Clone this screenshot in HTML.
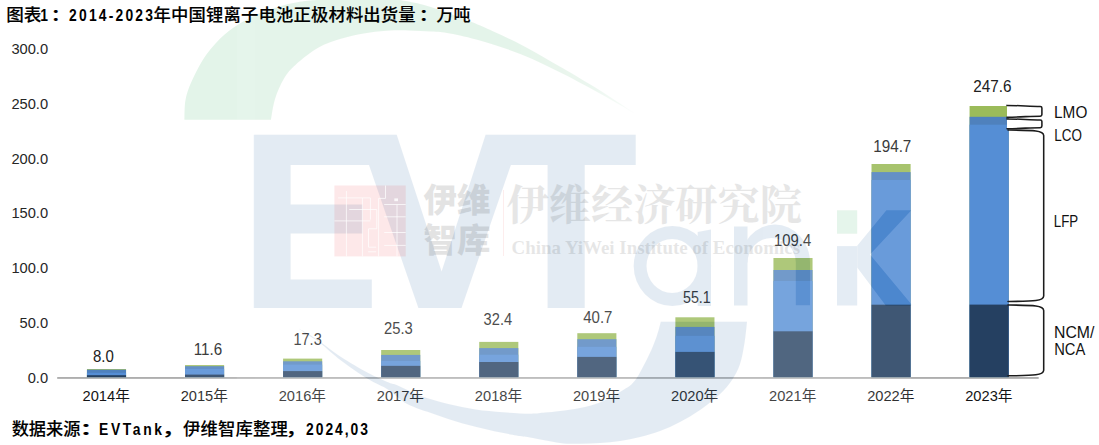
<!DOCTYPE html><html lang="zh"><head><meta charset="utf-8"><title>chart</title><style>html,body{margin:0;padding:0;background:#fff}svg{display:block}</style></head><body><svg width="1099" height="445" viewBox="0 0 1099 445">
<defs><linearGradient id="arcg" gradientUnits="userSpaceOnUse" x1="185" y1="0" x2="636" y2="0"><stop offset="0" stop-color="#1ea348"/><stop offset="0.72" stop-color="#1ea348"/><stop offset="0.9" stop-color="#5cbf7b"/><stop offset="1" stop-color="#e0f3e6"/></linearGradient></defs>
<rect width="1099" height="445" fill="#fff"/>
<rect x="57.2" y="377.10" width="981.5" height="1.7" fill="#a6a6a6"/>
<rect x="86.95" y="369.1" width="39.1" height="8.00" fill="#9BBB59"/>
<rect x="86.95" y="369.7" width="39.1" height="7.40" fill="#4F81BD"/>
<rect x="86.95" y="372.8" width="39.1" height="4.30" fill="#558ED5"/>
<rect x="86.95" y="375.2" width="39.1" height="1.90" fill="#254061"/>
<rect x="185.02" y="365.1" width="39.1" height="12.00" fill="#9BBB59"/>
<rect x="185.02" y="366.2" width="39.1" height="10.90" fill="#4F81BD"/>
<rect x="185.02" y="368.9" width="39.1" height="8.20" fill="#558ED5"/>
<rect x="185.02" y="374.6" width="39.1" height="2.50" fill="#254061"/>
<rect x="283.09" y="358.6" width="39.1" height="18.50" fill="#9BBB59"/>
<rect x="283.09" y="361.3" width="39.1" height="15.80" fill="#4F81BD"/>
<rect x="283.09" y="364.6" width="39.1" height="12.50" fill="#558ED5"/>
<rect x="283.09" y="371.1" width="39.1" height="6.00" fill="#254061"/>
<rect x="381.16" y="350.0" width="39.1" height="27.10" fill="#9BBB59"/>
<rect x="381.16" y="354.9" width="39.1" height="22.20" fill="#4F81BD"/>
<rect x="381.16" y="360.9" width="39.1" height="16.20" fill="#558ED5"/>
<rect x="381.16" y="365.85" width="39.1" height="11.25" fill="#254061"/>
<rect x="479.23" y="341.9" width="39.1" height="35.20" fill="#9BBB59"/>
<rect x="479.23" y="348.1" width="39.1" height="29.00" fill="#4F81BD"/>
<rect x="479.23" y="354.7" width="39.1" height="22.40" fill="#558ED5"/>
<rect x="479.23" y="362.0" width="39.1" height="15.10" fill="#254061"/>
<rect x="577.30" y="333.2" width="39.1" height="43.90" fill="#9BBB59"/>
<rect x="577.30" y="339.2" width="39.1" height="37.90" fill="#4F81BD"/>
<rect x="577.30" y="346.8" width="39.1" height="30.30" fill="#558ED5"/>
<rect x="577.30" y="356.9" width="39.1" height="20.20" fill="#254061"/>
<rect x="675.37" y="317.3" width="39.1" height="59.80" fill="#9BBB59"/>
<rect x="675.37" y="326.9" width="39.1" height="50.20" fill="#4F81BD"/>
<rect x="675.37" y="335.85" width="39.1" height="41.25" fill="#558ED5"/>
<rect x="675.37" y="351.9" width="39.1" height="25.20" fill="#254061"/>
<rect x="773.44" y="258.0" width="39.1" height="119.10" fill="#9BBB59"/>
<rect x="773.44" y="270.0" width="39.1" height="107.10" fill="#4F81BD"/>
<rect x="773.44" y="281.0" width="39.1" height="96.10" fill="#558ED5"/>
<rect x="773.44" y="331.3" width="39.1" height="45.80" fill="#254061"/>
<rect x="871.51" y="164.0" width="39.1" height="213.10" fill="#9BBB59"/>
<rect x="871.51" y="172.1" width="39.1" height="205.00" fill="#4F81BD"/>
<rect x="871.51" y="180.0" width="39.1" height="197.10" fill="#558ED5"/>
<rect x="871.51" y="304.7" width="39.1" height="72.40" fill="#254061"/>
<rect x="969.58" y="106.0" width="39.1" height="271.10" fill="#9BBB59"/>
<rect x="969.58" y="116.8" width="39.1" height="260.30" fill="#4F81BD"/>
<rect x="969.58" y="124.7" width="39.1" height="252.40" fill="#558ED5"/>
<rect x="969.58" y="304.6" width="39.1" height="72.50" fill="#254061"/>
<text x="48.1" y="53.90" font-family="Liberation Sans, sans-serif" font-size="14.67" text-anchor="end" fill="#262626">300.0</text>
<text x="48.1" y="108.72" font-family="Liberation Sans, sans-serif" font-size="14.67" text-anchor="end" fill="#262626">250.0</text>
<text x="48.1" y="163.54" font-family="Liberation Sans, sans-serif" font-size="14.67" text-anchor="end" fill="#262626">200.0</text>
<text x="48.1" y="218.36" font-family="Liberation Sans, sans-serif" font-size="14.67" text-anchor="end" fill="#262626">150.0</text>
<text x="48.1" y="273.18" font-family="Liberation Sans, sans-serif" font-size="14.67" text-anchor="end" fill="#262626">100.0</text>
<text x="48.1" y="328.00" font-family="Liberation Sans, sans-serif" font-size="14.67" text-anchor="end" fill="#262626">50.0</text>
<text x="48.1" y="382.82" font-family="Liberation Sans, sans-serif" font-size="14.67" text-anchor="end" fill="#262626">0.0</text>
<text x="106.20" y="401" font-family="Liberation Sans, Noto Sans CJK SC, sans-serif" font-size="14.67" text-anchor="middle" fill="#141414">2014年</text>
<text x="204.27" y="401" font-family="Liberation Sans, Noto Sans CJK SC, sans-serif" font-size="14.67" text-anchor="middle" fill="#141414">2015年</text>
<text x="302.34" y="401" font-family="Liberation Sans, Noto Sans CJK SC, sans-serif" font-size="14.67" text-anchor="middle" fill="#141414">2016年</text>
<text x="400.41" y="401" font-family="Liberation Sans, Noto Sans CJK SC, sans-serif" font-size="14.67" text-anchor="middle" fill="#141414">2017年</text>
<text x="498.48" y="401" font-family="Liberation Sans, Noto Sans CJK SC, sans-serif" font-size="14.67" text-anchor="middle" fill="#141414">2018年</text>
<text x="596.55" y="401" font-family="Liberation Sans, Noto Sans CJK SC, sans-serif" font-size="14.67" text-anchor="middle" fill="#141414">2019年</text>
<text x="694.62" y="401" font-family="Liberation Sans, Noto Sans CJK SC, sans-serif" font-size="14.67" text-anchor="middle" fill="#141414">2020年</text>
<text x="792.69" y="401" font-family="Liberation Sans, Noto Sans CJK SC, sans-serif" font-size="14.67" text-anchor="middle" fill="#141414">2021年</text>
<text x="890.76" y="401" font-family="Liberation Sans, Noto Sans CJK SC, sans-serif" font-size="14.67" text-anchor="middle" fill="#141414">2022年</text>
<text x="988.83" y="401" font-family="Liberation Sans, Noto Sans CJK SC, sans-serif" font-size="14.67" text-anchor="middle" fill="#141414">2023年</text>
<text transform="translate(92.98,361.6) scale(0.9561,1)" font-family="Liberation Sans, Noto Sans CJK SC, sans-serif" font-weight="400" font-size="15.7" letter-spacing="0.000" fill="#202020" >8.0</text>
<text transform="translate(193.79,354.5) scale(0.9673,1)" font-family="Liberation Sans, Noto Sans CJK SC, sans-serif" font-weight="400" font-size="15.7" letter-spacing="0.000" fill="#202020" >11.6</text>
<text transform="translate(293.44,345.2) scale(0.9263,1)" font-family="Liberation Sans, Noto Sans CJK SC, sans-serif" font-weight="400" font-size="15.7" letter-spacing="0.000" fill="#202020" >17.3</text>
<text transform="translate(383.99,334.3) scale(0.9414,1)" font-family="Liberation Sans, Noto Sans CJK SC, sans-serif" font-weight="400" font-size="15.7" letter-spacing="0.000" fill="#202020" >25.3</text>
<text transform="translate(483.60,325.3) scale(0.9333,1)" font-family="Liberation Sans, Noto Sans CJK SC, sans-serif" font-weight="400" font-size="15.7" letter-spacing="0.000" fill="#202020" >32.4</text>
<text transform="translate(583.26,323.0) scale(0.9559,1)" font-family="Liberation Sans, Noto Sans CJK SC, sans-serif" font-weight="400" font-size="15.7" letter-spacing="0.000" fill="#202020" >40.7</text>
<text transform="translate(683.02,303.3) scale(0.9069,1)" font-family="Liberation Sans, Noto Sans CJK SC, sans-serif" font-weight="400" font-size="15.7" letter-spacing="0.000" fill="#202020" >55.1</text>
<text transform="translate(774.12,245.70000000000002) scale(0.9440,1)" font-family="Liberation Sans, Noto Sans CJK SC, sans-serif" font-weight="400" font-size="15.7" letter-spacing="0.000" fill="#202020" >109.4</text>
<text transform="translate(873.19,151.9) scale(0.9718,1)" font-family="Liberation Sans, Noto Sans CJK SC, sans-serif" font-weight="400" font-size="15.7" letter-spacing="0.000" fill="#202020" >194.7</text>
<text transform="translate(973.27,91.5) scale(0.9748,1)" font-family="Liberation Sans, Noto Sans CJK SC, sans-serif" font-weight="400" font-size="15.7" letter-spacing="0.000" fill="#202020" >247.6</text>
<text transform="translate(1054.08,118.1) scale(0.9781,1)" font-family="Liberation Sans, Noto Sans CJK SC, sans-serif" font-weight="400" font-size="15.7" letter-spacing="0.000" fill="#111" >LMO</text>
<text transform="translate(1054.23,141.2) scale(0.8562,1)" font-family="Liberation Sans, Noto Sans CJK SC, sans-serif" font-weight="400" font-size="15.7" letter-spacing="0.000" fill="#111" >LCO</text>
<text transform="translate(1053.84,227.4) scale(0.8486,1)" font-family="Liberation Sans, Noto Sans CJK SC, sans-serif" font-weight="400" font-size="15.7" letter-spacing="0.000" fill="#111" >LFP</text>
<text transform="translate(1054.04,337.8) scale(1.0065,1)" font-family="Liberation Sans, Noto Sans CJK SC, sans-serif" font-weight="400" font-size="15.7" letter-spacing="0.000" fill="#111" >NCM/</text>
<text transform="translate(1054.13,354.7) scale(0.9386,1)" font-family="Liberation Sans, Noto Sans CJK SC, sans-serif" font-weight="400" font-size="15.7" letter-spacing="0.000" fill="#111" >NCA</text>
<path d="M1007.0,105.4 C1021.0,105.5 1029.9,106.4 1040.3000000000002,106.4 Q1041.9,106.4 1041.9,108.0 L1041.9,114.60000000000001 Q1041.9,116.2 1040.3000000000002,116.2 C1029.9,116.2 1021.0,117.10000000000001 1007.0,117.2" fill="#fff" stroke="#1c1c1c" stroke-width="1.55" stroke-linejoin="round" stroke-linecap="round"/>
<path d="M1007.0,118.9 C1021.0,119.0 1029.9,119.9 1040.3000000000002,119.9 Q1041.9,119.9 1041.9,121.5 L1041.9,126.1 Q1041.9,127.69999999999999 1040.3000000000002,127.69999999999999 C1029.9,127.69999999999999 1021.0,128.6 1007.0,128.7" fill="#fff" stroke="#1c1c1c" stroke-width="1.55" stroke-linejoin="round" stroke-linecap="round"/>
<path d="M1008.0,130.0 C1034.0,130.3 1043.4,130.3 1043.7,135.5 L1043.7,296.0 C1043.4,301.2 1034.0,301.2 1008.0,301.5" fill="none" stroke="#1c1c1c" stroke-width="1.55" stroke-linejoin="round" stroke-linecap="round"/>
<path d="M1008.0,305.0 C1034.0,305.3 1043.4,305.3 1043.7,310.5 L1043.7,370.3 C1043.4,375.5 1034.0,375.5 1008.0,375.8" fill="none" stroke="#1c1c1c" stroke-width="1.55" stroke-linejoin="round" stroke-linecap="round"/>
<clipPath id="wm1"><rect x="184.2" y="0" width="727.2" height="445"/></clipPath>
<g clip-path="url(#wm1)"><g opacity="0.12">
<rect x="184.2" y="0" width="727.2" height="445" fill="#fff"/>
<path d="M184.2,119.8C184.4,116.5 184.2,106.5 185.5,100.0C186.8,93.5 188.3,88.6 191.8,81.0C195.3,73.4 200.9,62.3 206.4,54.6C211.9,46.9 218.5,40.1 224.6,34.6C230.7,29.1 236.7,25.5 242.8,21.8C248.9,18.1 254.9,15.3 261.0,12.7C267.1,10.1 273.1,8.2 279.2,6.4C285.3,4.7 291.3,3.3 297.4,2.2C303.5,1.1 312.9,0.4 316.0,0.0L400,0C403.3,0.7 413.3,2.3 420.0,4.0C426.7,5.7 432.7,7.5 440.0,10.0C447.3,12.5 456.9,16.4 463.7,19.0C470.5,21.6 471.1,21.5 480.8,25.8C490.5,30.1 508.0,37.9 521.6,44.9C535.2,51.9 548.8,60.1 562.4,68.0C576.0,75.9 591.3,85.0 603.2,92.5C615.1,100.0 628.9,109.6 634.0,113.0C628.9,110.0 615.1,101.8 603.2,95.2C591.3,88.6 576.0,80.2 562.4,73.4C548.8,66.6 535.2,59.8 521.6,54.4C508.0,49.0 492.7,44.3 480.8,40.8C468.9,37.3 458.2,35.0 450.0,33.5C441.8,31.9 438.5,32.0 431.6,31.5C424.8,31.0 416.5,30.5 408.9,30.4C401.3,30.3 393.8,30.3 386.2,30.8C378.6,31.3 371.1,32.2 363.5,33.5C355.9,34.8 348.4,36.4 340.8,38.8C333.2,41.2 325.7,43.4 318.1,47.8C310.5,52.1 301.1,59.8 295.4,64.9C289.7,70.0 287.4,72.8 284.0,78.5C280.6,84.2 277.2,92.0 275.0,98.9C272.8,105.8 271.6,116.3 270.9,119.8Z" fill="url(#arcg)"/>
<polygon points="253.8,134.8 396.7,134.8 441.6,271.6 485.6,134.8 635.7,134.8 635.7,164.9 584.7,164.9 584.7,308 547.6,308 547.6,164.9 510.9,164.9 461.5,308 418.4,308 369,165 290.6,165 290.6,204.5 362.7,204.5 362.7,233.4 290.6,233.4 290.6,279.5 371.8,279.5 371.8,308.1 253.8,308.1" fill="#16589b"/>
<path fill-rule="evenodd" fill="#16589b" d="M633.7,266 a38.7,40 0 1,0 77.4,0 a38.7,40 0 1,0 -77.4,0 Z M646.5,266 a25.6,27 0 1,0 51.2,0 a25.6,27 0 1,0 -51.2,0 Z"/>
<path fill="#16589b" d="M697.7,232 L711,229.5 L711,306 L697.7,306 Z"/>
<path fill="#16589b" d="M734,305.4 L734,226.5 L747.5,226.5 L747.5,305.4 Z"/>
<path fill="#16589b" d="M740,262.6 A35,38 0 0,1 810,262.6 L810,305.3 L795.8,305.3 L795.8,262.6 A24.1,24.6 0 0,0 747.5,262.6 Z"/>
<rect x="837" y="210.3" width="20.2" height="23.4" fill="#1ea348"/>
<rect x="837" y="246.1" width="20.2" height="59.4" fill="#16589b"/>
<polygon points="886.4,210.3 911.4,210.3 870,254.5 912.4,305.5 885.7,305.5 857.2,267.5 857.2,245.8" fill="#16589b"/>
<path d="M747,321.8C746.6,325.3 745.7,336.0 744.5,343.0C743.3,350.0 742.1,357.8 740.0,364.0C737.9,370.2 735.3,375.0 732.0,380.0C728.7,385.0 725.3,389.0 720.0,394.0C714.7,399.0 706.7,405.3 700.0,410.0C693.3,414.7 686.7,418.5 680.0,422.0C673.3,425.5 666.7,428.5 660.0,431.0C653.3,433.5 646.7,435.3 640.0,437.0C633.3,438.7 626.7,440.0 620.0,441.0C613.3,442.0 606.7,442.5 600.0,443.0C593.3,443.5 586.7,443.8 580.0,443.8C573.3,443.8 568.3,444.1 560.0,443.0C551.7,441.9 537.2,438.8 530.0,437.5C522.8,436.2 523.3,436.8 516.5,435.5C509.7,434.2 498.3,432.1 489.2,430.0C480.1,427.9 471.0,425.8 461.9,423.2C452.8,420.6 443.7,417.5 434.6,414.3C425.5,411.1 415.0,408.2 407.3,404.1C399.6,400.1 395.2,394.2 388.7,390.0C382.2,385.8 376.1,384.0 368.2,379.1C360.2,374.2 348.9,366.4 341.0,360.4C333.1,354.4 325.8,347.3 320.5,343.2C315.2,339.1 312.8,338.1 309.0,335.6C305.2,333.1 299.8,329.3 298.0,328.0C299.8,329.1 305.2,332.3 309.0,334.6C312.8,336.9 315.2,338.3 320.5,342.0C325.8,345.7 333.1,351.8 341.0,357.0C348.9,362.2 360.2,368.8 368.2,373.0C376.1,377.2 383.8,380.4 388.7,382.5C393.6,384.6 392.3,383.2 397.7,385.5C403.1,387.8 412.6,392.9 421.0,396.0C429.4,399.1 439.1,401.8 448.2,404.1C457.3,406.4 466.4,408.2 475.5,409.6C484.6,411.0 493.7,411.6 502.8,412.3C511.9,413.0 523.0,413.6 530.0,413.7C537.0,413.8 540.0,413.1 545.0,412.6C550.0,412.2 554.2,411.8 560.0,411.0C565.8,410.2 573.3,409.4 580.0,408.0C586.7,406.6 593.3,405.2 600.0,402.5C606.7,399.8 614.2,395.7 620.0,392.0C625.8,388.3 630.2,386.7 635.0,380.5C639.8,374.3 645.4,362.2 649.0,355.0C652.6,347.8 654.5,342.5 656.5,337.0C658.5,331.5 660.1,324.3 660.8,321.8Z" fill="#16589b"/>
</g></g>
<rect x="236.7" y="0" width="634.3" height="445" fill="#fff" opacity="0.091"/>
<text transform="translate(6.23,21.3) scale(1.0153,1)" font-family="Liberation Sans, Noto Sans CJK SC, sans-serif" font-weight="500" font-size="17.33" letter-spacing="0.000" fill="#000" stroke="#000" stroke-width="0.12">图表</text>
<text transform="translate(40.20,21.3) scale(0.8000,1)" font-family="Liberation Sans, Noto Sans CJK SC, sans-serif" font-weight="700" font-size="17.33" letter-spacing="0.000" fill="#000" >1</text>
<text transform="translate(50.18,21.3) scale(1.2727,1)" font-family="Liberation Sans, Noto Sans CJK SC, sans-serif" font-weight="500" font-size="17.33" letter-spacing="0.000" fill="#000" stroke="#000" stroke-width="0.12">：</text>
<text transform="translate(69.10,21.3) scale(0.8000,1)" font-family="Liberation Sans, Noto Sans CJK SC, sans-serif" font-weight="700" font-size="17.33" letter-spacing="2.750" fill="#000" >2014-2023</text>
<text transform="translate(153.50,21.3) scale(1.0000,1)" font-family="Liberation Sans, Noto Sans CJK SC, sans-serif" font-weight="500" font-size="17.33" letter-spacing="0.161" fill="#000" stroke="#000" stroke-width="0.12">年中国锂离子电池正极材料出货量</text>
<text transform="translate(418.18,21.3) scale(1.2727,1)" font-family="Liberation Sans, Noto Sans CJK SC, sans-serif" font-weight="500" font-size="17.33" letter-spacing="0.000" fill="#000" stroke="#000" stroke-width="0.12">：</text>
<text transform="translate(436.51,21.3) scale(0.9851,1)" font-family="Liberation Sans, Noto Sans CJK SC, sans-serif" font-weight="500" font-size="17.33" letter-spacing="0.000" fill="#000" stroke="#000" stroke-width="0.12">万吨</text>
<text transform="translate(11.65,435.2) scale(0.9941,1)" font-family="Liberation Sans, Noto Sans CJK SC, sans-serif" font-weight="500" font-size="17.33" letter-spacing="0.000" fill="#000" stroke="#000" stroke-width="0.12">数据来源</text>
<text transform="translate(78.68,435.2) scale(1.6727,1)" font-family="Liberation Sans, Noto Sans CJK SC, sans-serif" font-weight="500" font-size="17.33" letter-spacing="0.000" fill="#000" stroke="#000" stroke-width="0.12">：</text>
<text transform="translate(99.00,435.2) scale(0.8000,1)" font-family="Liberation Sans, Noto Sans CJK SC, sans-serif" font-weight="700" font-size="17.33" letter-spacing="3.300" fill="#000" >EVTank</text>
<text transform="translate(161.36,435.2) scale(1.5429,1)" font-family="Liberation Sans, Noto Sans CJK SC, sans-serif" font-weight="500" font-size="17.33" letter-spacing="0.000" fill="#000" stroke="#000" stroke-width="0.12">，</text>
<text transform="translate(183.05,435.2) scale(1.0000,1)" font-family="Liberation Sans, Noto Sans CJK SC, sans-serif" font-weight="500" font-size="17.33" letter-spacing="0.170" fill="#000" stroke="#000" stroke-width="0.12">伊维智库整理</text>
<text transform="translate(285.31,435.2) scale(1.3429,1)" font-family="Liberation Sans, Noto Sans CJK SC, sans-serif" font-weight="500" font-size="17.33" letter-spacing="0.000" fill="#000" stroke="#000" stroke-width="0.12">，</text>
<text transform="translate(306.10,435.2) scale(0.8000,1)" font-family="Liberation Sans, Noto Sans CJK SC, sans-serif" font-weight="700" font-size="17.33" letter-spacing="2.437" fill="#000" >2024,03</text>
<g>
<rect x="334.4" y="185.5" width="71.3" height="70.9" fill="#ed1c24" opacity="0.10"/>
<path stroke="#fff" stroke-width="0.9" fill="none" opacity="0.8" d="M346.4,191 V256.4 M338.1,197.9 H370.4 V219.6 M362.4,197.9 V256.4 M349.2,209.5 H376.8 V228.8 H368.5 V247.2 H376.2 M334.4,220.9 H370.4 M368.1,251.8 H376.2 M378.6,198.4 V256.4 M385.5,185.5 V198.4 H378.6 M384.2,204.5 H405.7 M397,204.5 V256.4 M384.2,216.8 H405.7 M384.2,232.5 H405.7 M384.2,245.4 H405.7"/>
<rect x="394.3" y="198.4" width="3.7" height="2.8" fill="#fff" opacity="0.8"/>
<text x="423.5" y="211.5" font-family="Noto Sans CJK SC, sans-serif" font-weight="900" font-size="33" textLength="67" lengthAdjust="spacingAndGlyphs" fill="#000" opacity="0.105">伊维</text>
<text x="423.5" y="252.3" font-family="Noto Sans CJK SC, sans-serif" font-weight="900" font-size="33" textLength="67" lengthAdjust="spacingAndGlyphs" fill="#000" opacity="0.105">智库</text>
<rect x="503.1" y="190" width="0.9" height="66" fill="#ed1c24" opacity="0.09"/>
<text x="506.5" y="219.5" font-family="Noto Serif CJK SC, serif" font-weight="700" font-size="42" textLength="295.5" lengthAdjust="spacingAndGlyphs" fill="#000" opacity="0.095">伊维经济研究院</text>
<text x="511.5" y="253.9" font-family="Liberation Serif, serif" font-weight="700" font-size="19.5" textLength="288.5" lengthAdjust="spacingAndGlyphs" fill="#000" opacity="0.095">China YiWei Institute of Economics</text>
</g>
</svg></body></html>
